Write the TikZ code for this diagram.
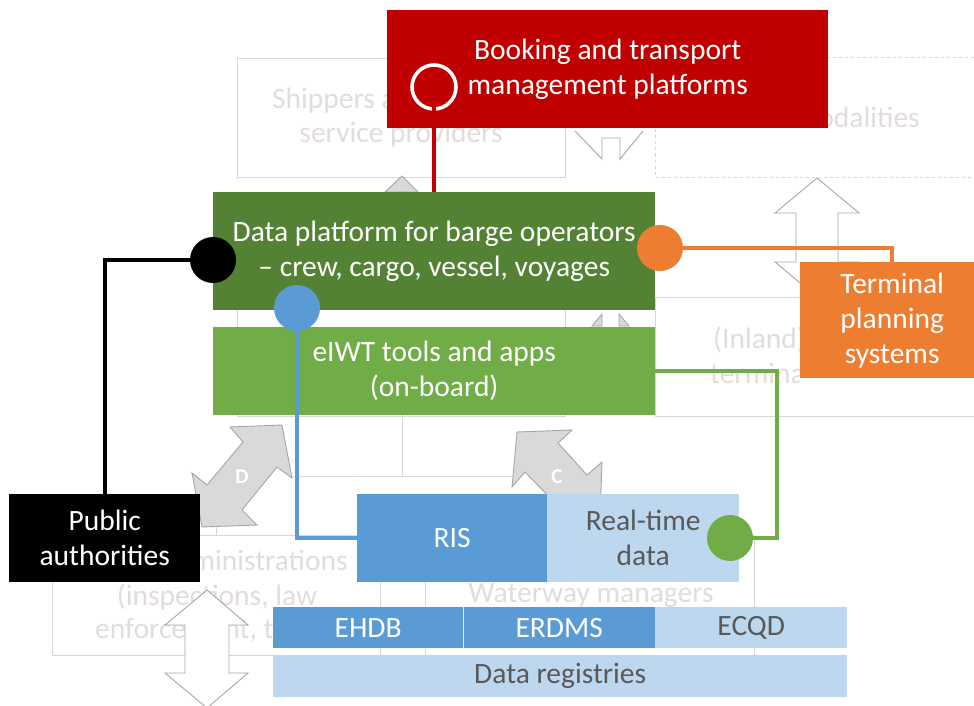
\documentclass[tikz,border=0pt]{standalone}
\usepackage{fontspec}
\setmainfont{Carlito}
\definecolor{cred}{HTML}{C00000}
\definecolor{cdgreen}{HTML}{548235}
\definecolor{cgreen}{HTML}{70AD47}
\definecolor{corange}{HTML}{ED7D31}
\definecolor{cblue}{HTML}{5B9BD5}
\definecolor{clblue}{HTML}{BDD7EE}
\definecolor{ctext}{HTML}{595959}
\definecolor{fline}{HTML}{D6D6D6}
\definecolor{ftext}{HTML}{E2DDDA}
\definecolor{agray}{HTML}{A6A6A6}
\definecolor{afill}{HTML}{D9D9D9}
\begin{document}
\begin{tikzpicture}[x=1pt,y=-1pt,
  lbl/.style={font=\fontsize{29.5}{35}\selectfont, align=center, inner sep=0pt},
  fadedtxt/.style={lbl, text=ftext},
  fbox/.style={draw=fline, line width=1pt, anchor=north west, inner sep=0pt},
  cbox/.style={lbl, anchor=north west, inner sep=0pt},
  fline/.style={draw=fline, line width=1pt},
  whitearrow/.style={fill=white, draw=agray, line width=0.9pt, line join=miter},
  grayarrow/.style={fill=afill, draw=agray, line width=0.9pt, line join=miter},
  arrlbl/.style={font=\fontsize{21}{21}\selectfont\bfseries, text=white, inner sep=0pt},
  conn/.style={line width=3.6pt},
  dot/.style={circle, inner sep=0pt, minimum size=46pt}
]
\useasboundingbox (0,0) rectangle (974,706);
\fill[white] (0,0) rectangle (974,706);

% ---------- faded background boxes ----------
\node[fbox, minimum width=328pt, minimum height=119pt] (ship) at (237,58) {};
\node[fadedtxt, anchor=west] (shipt1) at (272,101) {Shippers and};
\node[fadedtxt] (shipt2) at (401,135) {service providers};
\node[fbox, dashed, minimum width=330pt, minimum height=120pt] (omod) at (655,57) {};
\node[fadedtxt, anchor=east] (omodt) at (920,117) {Other modalities};
\node[fbox, minimum width=328pt, minimum height=119pt] (barge) at (237,297) {};
\node[fbox, minimum width=330pt, minimum height=119pt] (tops) at (655,297) {};
\begin{scope}
  \clip (655,297) rectangle (799,416);
  \node[fadedtxt, anchor=west] (topst1) at (713,340) {(Inland)};
  \node[fadedtxt, anchor=west] (topst2) at (710,373) {terminal};
\end{scope}
\node[fbox, minimum width=328pt, minimum height=120pt] (adm) at (52,535) {};
\node[fadedtxt, anchor=east] (admt1) at (348,560) {Administrations};
\node[fadedtxt] (admt2) at (217,597) {(inspections, law};
\node[fadedtxt, anchor=west] (admt3) at (95,630) {enforcement, traffic};
\node[fbox, minimum width=329pt, minimum height=120pt] (ww) at (425,535) {};
\node[fadedtxt] (wwt) at (591,596) {Waterway managers};

% faded connectors
\coordinate (tb) at (402,415);
\coordinate (tj) at (402,476);
\coordinate (tl) at (292,476);
\coordinate (tr) at (512,476);
\draw[fline] (tb) -- (tj);
\draw[fline] (tl) -- (tr);
\draw[fline] (216,527) -- (216,535);

% ---------- faded arrows ----------
\draw[whitearrow] (817,178) -- (859,213) -- (838,213) -- (838,262) -- (859,262) -- (817,297)
  -- (775,262) -- (796,262) -- (796,213) -- (775,213) -- cycle;
\draw[whitearrow] (207,590) -- (248,625) -- (229,625) -- (229,673) -- (248,673) -- (207,708)
  -- (165,673) -- (185,673) -- (185,625) -- (165,625) -- cycle;
\draw[grayarrow] (402,176) -- (418,192) -- (385,192) -- cycle;
\draw[draw=agray, line width=0.9pt] (575,131) -- (602,159) -- (602,138) -- (620,138) -- (620,159) -- (643,131);
\draw[grayarrow] (602,314) -- (602,326) -- (592,326) -- cycle;
\draw[grayarrow] (619,314) -- (619,326) -- (629,326) -- cycle;
\draw[grayarrow] (230,427) -- (282,425) -- (292,478) -- (277,467) -- (242,510) -- (257,525)
  -- (202,527) -- (192,473) -- (207,485) -- (243,442) -- cycle;
\node[arrlbl] (dlbl) at (242,477) {D};
\draw[grayarrow] (517,432) -- (572,430) -- (558,443) -- (587,475) -- (602,462) -- (600,520)
  -- (545,520) -- (557,505) -- (525,472) -- (512,487) -- cycle;
\node[arrlbl] (clbl) at (557,477) {C};

% ---------- coloured boxes ----------
\node[cbox, fill=cred, text=white, minimum width=441pt, minimum height=118pt] (book) at (387,10)
  {Booking and transport\\management platforms};
\node[cbox, fill=cdgreen, text=white, minimum width=442pt, minimum height=118pt] (dp) at (213,192)
  {Data platform for barge operators\\– crew, cargo, vessel, voyages};
\node[cbox, fill=cgreen, text=white, minimum width=442pt, minimum height=88pt] (eiwt) at (213,327)
  {eIWT tools and apps\\(on-board)};
\node[cbox, fill=corange, text=white, minimum width=184pt, minimum height=116pt] (tps) at (800,262)
  {Terminal\\planning\\systems};
\node[cbox, fill=black, text=white, minimum width=191pt, minimum height=88pt] (pa) at (9,494)
  {Public\\authorities};
\node[cbox, fill=cblue, text=white, minimum width=190pt, minimum height=88pt] (ris) at (357,494) {RIS};
\node[cbox, fill=clblue, text=ctext, minimum width=192pt, minimum height=88pt] (rtd) at (547,494)
  {Real-time\\data};
\node[cbox, fill=cblue, text=white, minimum width=190pt, minimum height=41pt] (ehdb) at (273,607) {EHDB};
\node[cbox, fill=cblue, text=white, minimum width=192pt, minimum height=41pt] (erdms) at (463,607) {ERDMS};
\node[cbox, fill=clblue, text=ctext, minimum width=192pt, minimum height=41pt] (ecqd) at (655,607) {ECQD};
\node[cbox, fill=clblue, text=ctext, minimum width=574pt, minimum height=42pt] (dreg) at (273,655) {Data registries};
\draw[white!80!cblue, line width=0.8pt] (ehdb.north east) -- (ehdb.south east);

% ---------- connectors ----------
\node[circle, draw=white, line width=3.6pt, minimum size=44pt, inner sep=0pt] (ring) at (434,87) {};
\node[dot] (blk) at (213,260) {};
\node[dot] (orc) at (660,248) {};
\node[dot] (blc) at (297,308) {};
\node[dot] (gc) at (730,538) {};
\coordinate (gcorner) at (777,538);

\draw[cred, conn] (ring.center) -- (ring.center |- dp.north);
\draw[black, conn] (blk.center) -| (pa.north);
\draw[corange, conn] (orc.center) -| (tps.north);
\draw[cblue, conn] (blc.center) |- (ris.west);
\draw[cgreen, conn] (gc.center) -- (gcorner) |- (eiwt.east);

\fill[black] (blk) circle (23pt);
\fill[corange] (orc) circle (23pt);
\fill[cblue] (blc) circle (23pt);
\fill[cgreen] (gc) circle (23pt);
\end{tikzpicture}
\end{document}
